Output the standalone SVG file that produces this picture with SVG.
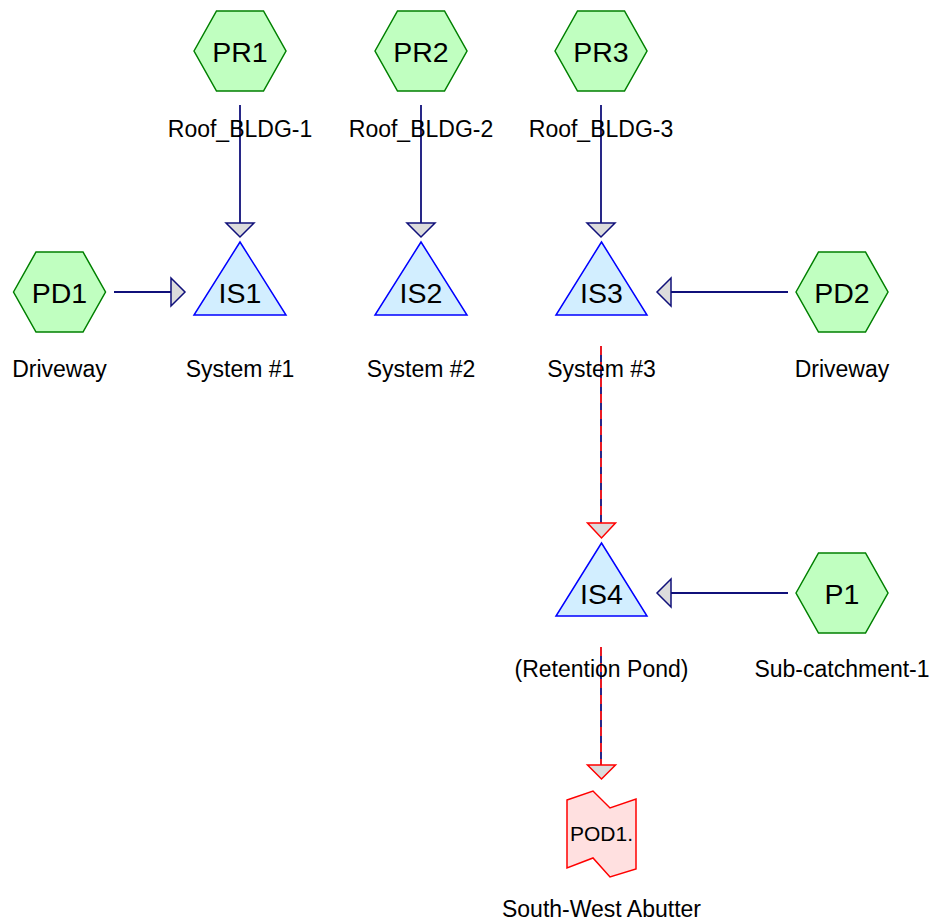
<svg xmlns="http://www.w3.org/2000/svg" width="933" height="924" viewBox="0 0 933 924">
<style>
.hex{fill:#c0ffc0;stroke:#008000;stroke-width:1.5}
.tri{fill:#d2eeff;stroke:#0000ff;stroke-width:1.5}
.pod{fill:#ffe0e0;stroke:#ff0000;stroke-width:1.5}
.big{font-family:"Liberation Sans",Arial,sans-serif;font-size:28.5px;fill:#000;text-anchor:middle}
.lbl{font-family:"Liberation Sans",Arial,sans-serif;font-size:23px;fill:#000;text-anchor:middle}
.sm{font-family:"Liberation Sans",Arial,sans-serif;font-size:21px;fill:#000;text-anchor:middle}
.ln{stroke:#10107a;stroke-width:1.8;fill:none}
.dash{stroke:#ff1a1a;stroke-width:1.8;stroke-dasharray:9,7;fill:none}
.ah{fill:#dcdcdc;stroke:#10107a;stroke-width:1.5}
.ahr{fill:#dcdcdc;stroke:#ff0000;stroke-width:1.5}
</style>
<defs>
<polygon id="hexs" points="-46,0 -23.5,-40 23.5,-40 46,0 23.5,40 -23.5,40"/>
</defs>
<g id="connectors">
<line class="ln" x1="240" y1="105" x2="240" y2="223"/>
<polygon class="ah" points="226,223 254,223 240,237"/>
<line class="ln" x1="421" y1="105" x2="421" y2="223"/>
<polygon class="ah" points="407,223 435,223 421,237"/>
<line class="ln" x1="601" y1="105" x2="601" y2="223"/>
<polygon class="ah" points="587,223 615,223 601,237"/>
<line class="ln" x1="114" y1="292" x2="171" y2="292"/>
<polygon class="ah" points="171,278 171,306 185,292"/>
<line class="ln" x1="788" y1="292" x2="671" y2="292"/>
<polygon class="ah" points="671,278 671,306 657,292"/>
<line class="ln" x1="788" y1="593" x2="671" y2="593"/>
<polygon class="ah" points="671,579 671,607 657,593"/>
<line class="ln" x1="601" y1="346" x2="601" y2="523"/>
<line class="dash" x1="601" y1="346" x2="601" y2="523"/>
<polygon class="ahr" points="587.5,523 615.5,523 601.5,538"/>
<line class="ln" x1="601" y1="647" x2="601" y2="765"/>
<line class="dash" x1="601" y1="647" x2="601" y2="765"/>
<polygon class="ahr" points="587.5,765 615.5,765 601.5,779"/>
</g>
<g id="PR1">
<use href="#hexs" class="hex" x="240" y="51"/>
<text class="big" x="240" y="62">PR1</text>
<text class="lbl" x="240" y="137">Roof_BLDG-1</text>
</g>
<g id="PR2">
<use href="#hexs" class="hex" x="421" y="51"/>
<text class="big" x="421" y="62">PR2</text>
<text class="lbl" x="421" y="137">Roof_BLDG-2</text>
</g>
<g id="PR3">
<use href="#hexs" class="hex" x="601" y="51"/>
<text class="big" x="601" y="62">PR3</text>
<text class="lbl" x="601" y="137">Roof_BLDG-3</text>
</g>
<g id="PD1">
<use href="#hexs" class="hex" x="59.5" y="292"/>
<text class="big" x="59.5" y="303">PD1</text>
<text class="lbl" x="59.5" y="377">Driveway</text>
</g>
<g id="PD2">
<use href="#hexs" class="hex" x="842" y="292"/>
<text class="big" x="842" y="303">PD2</text>
<text class="lbl" x="842" y="377">Driveway</text>
</g>
<g id="P1">
<use href="#hexs" class="hex" x="842" y="593"/>
<text class="big" x="842" y="604">P1</text>
<text class="lbl" x="842" y="677">Sub-catchment-1</text>
</g>
<g id="IS1">
<polygon class="tri" points="240,242 286,315 194,315"/>
<text class="big" x="240" y="303">IS1</text>
<text class="lbl" x="240" y="377">System #1</text>
</g>
<g id="IS2">
<polygon class="tri" points="421,242 467,315 375,315"/>
<text class="big" x="421" y="303">IS2</text>
<text class="lbl" x="421" y="377">System #2</text>
</g>
<g id="IS3">
<polygon class="tri" points="601.5,242 647,315 556,315"/>
<text class="big" x="601.5" y="303">IS3</text>
<text class="lbl" x="601.5" y="377">System #3</text>
</g>
<g id="IS4">
<polygon class="tri" points="601.5,543 647,616 556,616"/>
<text class="big" x="601.5" y="604">IS4</text>
<text class="lbl" x="601.5" y="677">(Retention Pond)</text>
</g>
<g id="POD1">
<polygon class="pod" points="567,800 593,791 610,808 636,799 636,869 610,877 593,858 567,868"/>
<text class="sm" x="601.5" y="841">POD1.</text>
<text class="lbl" x="601.5" y="917">South-West Abutter</text>
</g>
</svg>
